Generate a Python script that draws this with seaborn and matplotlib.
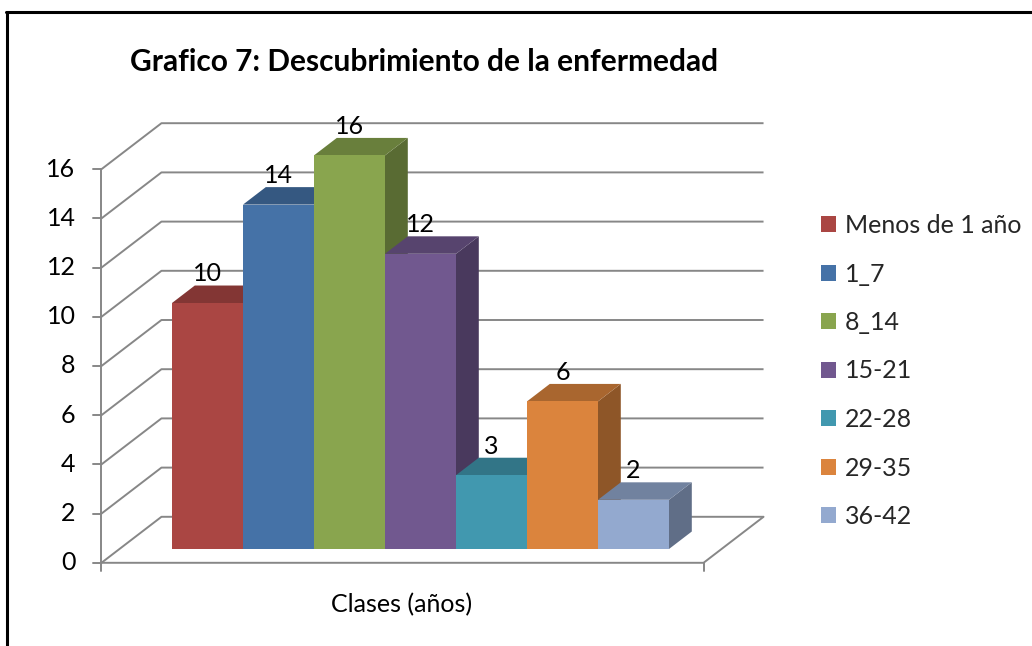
import numpy as np
import pandas as pd
import matplotlib
matplotlib.use("Agg")
import matplotlib.pyplot as plt
import seaborn as sns
from matplotlib.colors import to_rgb
from matplotlib.lines import Line2D
from matplotlib.patches import Polygon, Rectangle

# data
TITLE = "Grafico 7: Descubrimiento de la enfermedad"
X_LABEL = "Clases (años)"
CLASSES = ["Menos de 1 año", "1_7", "8_14", "15-21", "22-28", "29-35", "36-42"]
COUNTS = [10, 14, 16, 12, 3, 6, 2]
Y_TICKS = [0, 2, 4, 6, 8, 10, 12, 14, 16]
COLORS = ["#AA4643", "#4572A7", "#89A54E", "#71588F", "#4198AF", "#DB843D", "#93A9CF"]

# layout (pixels of the 1032x646 canvas)
W, H = 1032, 646
PX_X, PX_Y = 71.0, 24.6          # one category / one count on the bars' front plane
ORIGIN = (207.5, 549.0)          # pixel of (first bar centre, 0)
DEPTH = (60 / PX_X, 46 / PX_Y)   # full floor depth in data units
Z_FRONT, Z_BACK = 0.30, 0.68     # bar front / back inside the floor depth
X_PAD = 0.74                     # floor margin left/right of the bars
GRID = "#878787"
FS = 18


def proj(x, y, z):
    # oblique projection: depth goes up and to the right
    return x + (z - Z_FRONT) * DEPTH[0], y + (z - Z_FRONT) * DEPTH[1]


def shade(c, k):
    r, g, b = to_rgb(c)
    return (r * k, g * k, b * k)


sns.set_theme(style="white")
plt.rcParams["font.family"] = ["Lato", "DejaVu Sans"]

fig = plt.figure(figsize=(W / 100, H / 100), dpi=100)
ax = fig.add_axes([0, 0, 1, 1])

df = pd.DataFrame({"clase": CLASSES, "n": COUNTS})
sns.barplot(data=df, x="clase", y="n", hue="clase", order=CLASSES, hue_order=CLASSES,
            palette=COLORS, saturation=1, width=1.0, linewidth=0, legend=False, ax=ax)

ax.set_xlim(-ORIGIN[0] / PX_X, (W - ORIGIN[0]) / PX_X)
ax.set_ylim(-(H - ORIGIN[1]) / PX_Y, ORIGIN[1] / PX_Y)
ax.axis("off")

# back wall gridlines, floor and axes
xl = -0.5 - X_PAD
xr = len(CLASSES) - 0.5 + X_PAD
for v in Y_TICKS:
    pts = [proj(xl, v, 0), proj(xl, v, 1), proj(xr, v, 1)]
    ax.plot(*zip(*pts), color=GRID, lw=1.4, zorder=1, solid_capstyle="butt")
    px, py = proj(xl, v, 0)
    ax.plot([px - 8 / PX_X, px], [py, py], color=GRID, lw=1.4, zorder=1)
    ax.text(px - 26 / PX_X, py, str(v), ha="right", va="center", fontsize=FS, color="black")

pts = [proj(xl, 0, 0), proj(xr, 0, 0), proj(xr, 0, 1)]
ax.plot(*zip(*pts), color=GRID, lw=1.4, zorder=1)
p0 = proj(xl, 0, 0)
p1 = proj(xl, max(Y_TICKS), 0)
ax.plot([p0[0], p1[0]], [p0[1], p1[1]], color=GRID, lw=1.4, zorder=1)
for xx in (xl, xr):
    px, py = proj(xx, 0, 0)
    ax.plot([px, px], [py, py - 8 / PX_Y], color=GRID, lw=1.4, zorder=1)

# 3d faces of each bar
bdx = (Z_BACK - Z_FRONT) * DEPTH[0]
bdy = (Z_BACK - Z_FRONT) * DEPTH[1]
bars = sorted(ax.patches, key=lambda p: p.get_x())
for i, p in enumerate(bars):
    x0 = p.get_x()
    x1 = x0 + p.get_width()
    h = p.get_height()
    c = p.get_facecolor()
    z = 3 + i * 0.01
    ax.add_patch(Polygon([(x1, 0), (x1 + bdx, bdy), (x1 + bdx, h + bdy), (x1, h)],
                         closed=True, fc=shade(c, 0.65), ec="none", zorder=z))
    ax.add_patch(Polygon([(x0, h), (x1, h), (x1 + bdx, h + bdy), (x0 + bdx, h + bdy)],
                         closed=True, fc=shade(c, 0.77), ec="none", zorder=z))
    p.set_zorder(z + 0.005)
    ax.text((x0 + x1) / 2, h + 29 / PX_Y, f"{h:g}", ha="center", va="center",
            fontsize=FS, color="black", zorder=10)

# legend
handles = [Rectangle((0, 0), 1, 1, fc=c, ec="none") for c in COLORS]
ax.legend(handles, CLASSES, loc="center left", bbox_to_anchor=(821 / W, 1 - 371 / H),
          bbox_transform=fig.transFigure, frameon=False, fontsize=FS,
          handlelength=0.6, handleheight=0.6, handletextpad=0.35,
          labelspacing=1.02, borderpad=0, borderaxespad=0)

fig.text(424 / W, 1 - 62 / H, TITLE, ha="center", va="center",
         fontsize=21.5, fontweight="bold", color="black")
fig.text(402 / W, 1 - 605 / H, X_LABEL, ha="center", va="center", fontsize=FS, color="black")

# outer frame (only top and left visible)
fig.add_artist(Line2D([7 / W, 7 / W], [0, 1 - 12 / H], color="black", lw=2.2,
                      transform=fig.transFigure))
fig.add_artist(Line2D([6 / W, 1], [1 - 12 / H, 1 - 12 / H], color="black", lw=2.2,
                      transform=fig.transFigure))

fig.savefig("out.png", dpi=100)
